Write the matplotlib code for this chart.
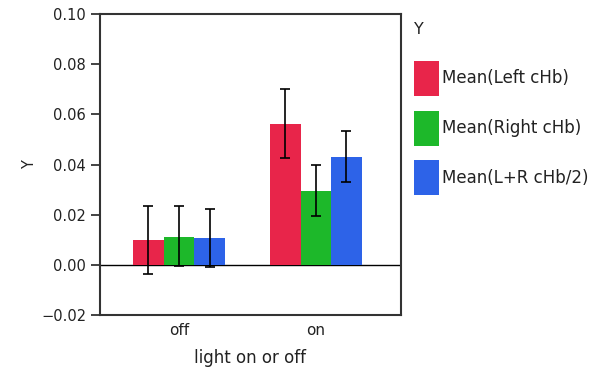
import matplotlib
matplotlib.use('Agg')
from matplotlib import pyplot as plt
from matplotlib.patches import Patch
import numpy as np

plt.rcParams['font.family'] = ['DejaVu Sans']

categories = ['off', 'on']
series = ['Mean(Left cHb)', 'Mean(Right cHb)', 'Mean(L+R cHb/2)']
colors = ['#E8254A', '#1DB82A', '#2D63E8']

# bar heights, per series: [off, on]
left_mean = [0.0100, 0.0563]
right_mean = [0.0112, 0.0296]
avg_mean = [0.0107, 0.0430]

# error bar ends, per series: [off, on]
left_lo = [-0.0035, 0.0427]
left_hi = [0.0233, 0.0700]
right_lo = [-0.0005, 0.0194]
right_hi = [0.0233, 0.0398]
avg_lo = [-0.0010, 0.0329]
avg_hi = [0.0223, 0.0533]

means = [left_mean, right_mean, avg_mean]
lows = [left_lo, right_lo, avg_lo]
highs = [left_hi, right_hi, avg_hi]

fig = plt.figure(figsize=(6, 3.8), dpi=100)
ax = fig.add_axes([0.1667, 0.171, 0.5013, 0.792])

x = np.arange(len(categories))
w = 0.223
for i in range(len(series)):
    pos = x + (i - 1) * w
    m = np.array(means[i])
    err = [m - np.array(lows[i]), np.array(highs[i]) - m]
    ax.bar(pos, m, width=w, color=colors[i], linewidth=0, zorder=2)
    ax.errorbar(pos, m, yerr=err, fmt='none', ecolor='black',
                elinewidth=1.2, capsize=3.8, capthick=1.2, zorder=3)

ax.axhline(0, color='black', lw=1.0, zorder=1)
ax.set_xlim(-0.577, 1.62)
ax.set_ylim(-0.02, 0.10)
ax.set_yticks([-0.02, 0.0, 0.02, 0.04, 0.06, 0.08, 0.10])
ax.set_yticklabels(['\u22120.02', '0.00', '0.02', '0.04', '0.06', '0.08', '0.10'])
ax.set_xticks(x)
ax.set_xticklabels(categories)
ax.tick_params(axis='x', length=0, pad=6, labelsize=11, colors='#222222')
ax.tick_params(axis='y', length=6.5, width=1.2, labelsize=10.5, colors='#222222')
for s in ax.spines.values():
    s.set_linewidth(1.5)
    s.set_color('#333333')

ax.set_xlabel('light on or off', fontsize=12, color='#222222', labelpad=8)
ax.set_ylabel('Y', fontsize=10.5, color='#222222', labelpad=3)

# legend title, then the legend itself without a frame
fig.text(0.690, 1 - 30 / 380, 'Y', fontsize=11.5, color='#222222',
         ha='left', va='center')
handles = [Patch(facecolor=c, edgecolor='none') for c in colors]
leg = fig.legend(handles, series, loc='upper left',
                 bbox_to_anchor=(0.690, 1 - 61 / 380), frameon=False, fontsize=12,
                 handlelength=1.5, handleheight=2.85,
                 labelspacing=0.88, handletextpad=0.2, borderpad=0.0,
                 borderaxespad=0.0)
for t in leg.get_texts():
    t.set_color('#222222')

plt.savefig('out.png', dpi=100)
plt.close()
